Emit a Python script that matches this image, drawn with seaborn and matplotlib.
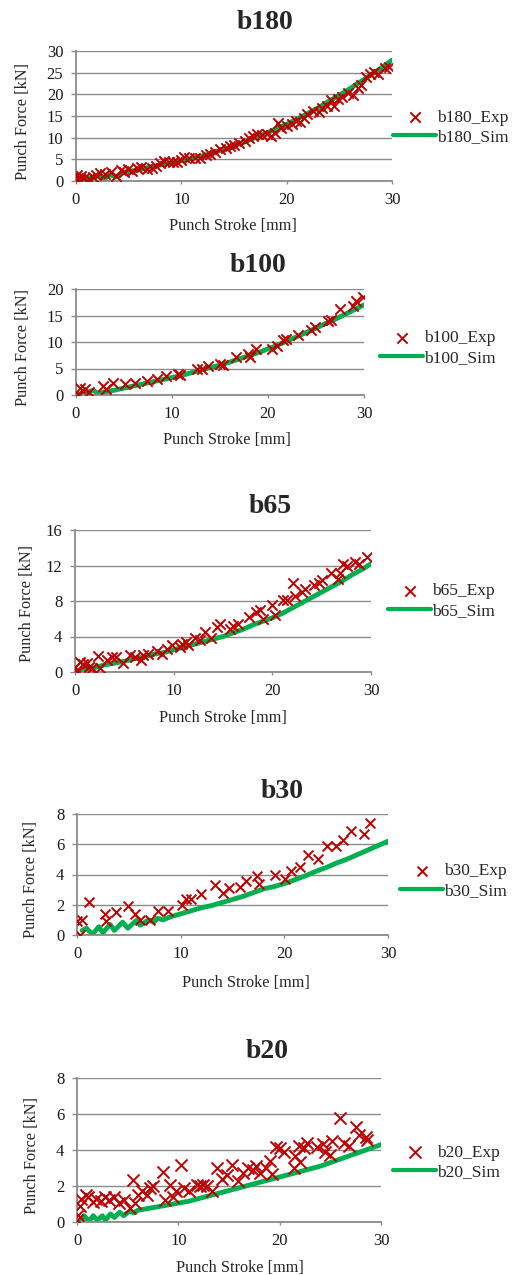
import matplotlib
matplotlib.use("Agg")
import matplotlib.pyplot as plt
import seaborn as sns
import numpy as np

# ---------------- data ----------------
titles = ["b180", "b100", "b65", "b30", "b20"]
y_max = [30, 20, 16, 8, 8]
y_step = [5, 5, 4, 2, 2]
x_ticks = [0, 10, 20, 30]

x_exp_b180 = [0.1, 0.2, 0.3, 0.5, 0.8, 1.2, 1.6, 1.9, 2.3, 2.8, 3.3, 3.8, 4.3, 4.6, 4.9, 5.3, 5.8, 6.2, 6.7, 7.2,
              7.6, 8.0, 8.4, 8.8, 9.2, 9.6, 10.0, 10.3, 10.7, 11.3, 11.8, 12.3, 12.7, 13.2, 13.7, 14.2, 14.6, 15.0,
              15.5, 16.0, 16.4, 16.8, 17.2, 17.7, 18.1, 18.5, 18.9, 19.2, 19.5, 20.0, 20.5, 20.9, 21.3, 21.6, 21.9,
              22.5, 23.1, 23.4, 23.8, 24.2, 24.5, 24.9, 25.3, 25.8, 26.3, 26.8, 27.1, 27.5, 27.9, 28.3, 28.7, 29.3, 29.7]
y_exp_b180 = [1.5, 0.8, 0.3, 1.2, 0.6, 0.5, 0.9, 1.3, 1.8, 1.6, 2.1, 1.2, 2.6, 2.0, 2.8, 2.3, 3.0, 3.2, 2.8, 3.1,
              3.4, 4.2, 4.6, 4.4, 4.4, 4.5, 4.8, 5.5, 5.4, 5.2, 5.4, 6.0, 6.3, 6.7, 7.3, 7.6, 8.1, 8.3,
              8.8, 9.2, 10.0, 10.5, 10.8, 10.6, 10.8, 10.3, 11.1, 13.5, 12.3, 12.6, 13.1, 13.9, 13.6, 14.5, 15.5,
              16.2, 16.0, 16.8, 17.4, 18.6, 17.4, 19.0, 19.5, 20.3, 19.9, 21.5, 22.2, 23.9, 24.8, 25.2, 24.6, 26.1, 26.3]
x_sim_b180 = [0, 1, 2, 2.7, 3.2, 3.8, 4.5, 5, 6, 7, 8, 9, 10, 11, 12, 13, 14, 15, 16, 17, 18, 19, 20,
              21, 22, 23, 24, 25, 26, 27, 28, 29, 30]
y_sim_b180 = [0, 0.5, 1.2, 0.5, 1.5, 0.9, 2.0, 2.2, 2.6, 3.2, 3.7, 4.1, 4.7, 5.2, 5.8, 6.5, 7.3, 8.1, 9.0, 10.0,
              11.0, 12.0, 13.1, 14.3, 15.6, 16.9, 18.4, 19.8, 21.3, 22.9, 24.5, 26.1, 27.9]

x_exp_b100 = [0.2, 0.4, 0.9, 1.4, 2.8, 3.1, 3.9, 5.1, 6.1, 7.4, 8.4, 9.4, 10.6, 10.8, 12.6, 13.1, 13.8, 15.0,
              15.3, 16.7, 17.9, 18.1, 18.8, 20.4, 20.9, 21.6, 21.9, 23.1, 24.5, 24.9, 26.3, 26.6, 27.5, 28.9,
              29.2, 29.9]
y_exp_b100 = [0.2, 1.3, 1.1, 0.6, 1.7, 1.1, 2.3, 2.1, 2.2, 2.7, 3.0, 3.5, 4.0, 3.8, 4.9, 5.0, 5.5, 5.9,
              5.6, 7.1, 7.8, 7.1, 8.6, 8.6, 9.3, 10.3, 10.5, 11.4, 12.3, 12.8, 13.9, 14.1, 16.2, 16.8,
              17.7, 18.5]
x_sim_b100 = [0, 1, 1.8, 2.3, 3, 4, 5, 6, 7, 8, 9, 10, 11, 12, 13, 14, 15, 16, 17, 18, 19, 20,
              21, 22, 23, 24, 25, 26, 27, 28, 29, 30]
y_sim_b100 = [0, 0.4, 0.9, 0.2, 0.6, 0.9, 1.3, 1.7, 2.1, 2.5, 2.9, 3.3, 3.7, 4.2, 4.7, 5.2, 5.6, 6.2, 6.8,
              7.4, 8.0, 8.7, 9.4, 10.2, 11.0, 11.8, 12.6, 13.5, 14.3, 15.2, 16.1, 17.0]

x_exp_b65 = [0.0, 0.2, 0.5, 0.8, 1.2, 1.4, 1.7, 2.3, 2.5, 3.2, 3.7, 4.2, 4.9, 5.6, 6.1, 6.7, 6.9, 7.4, 8.3, 8.8,
             9.3, 9.8, 10.6, 10.8, 11.3, 11.5, 12.2, 12.7, 13.2, 13.8, 14.4, 14.7, 15.7, 16.0, 16.5, 17.6, 18.3,
             18.8, 19.1, 20.0, 20.3, 21.1, 21.5, 22.1, 22.3, 23.0, 23.3, 24.2, 24.7, 25.0, 25.9, 26.7, 26.9,
             27.2, 27.6, 28.4, 28.8, 29.6]
y_exp_b65 = [0.6, 0.0, 1.1, 0.9, 1.0, 0.6, 0.5, 1.8, 0.5, 1.3, 1.7, 1.7, 1.0, 1.9, 1.7, 1.4, 1.9, 2.0, 2.4, 2.0,
             2.6, 3.0, 2.8, 3.2, 3.4, 3.0, 3.8, 3.6, 4.5, 3.8, 5.1, 5.4, 4.9, 5.2, 5.4, 6.2, 6.8,
             7.0, 6.0, 7.5, 6.4, 8.1, 8.1, 10.0, 8.6, 9.0, 9.4, 9.8, 10.0, 10.4, 11.1, 10.5, 11.1,
             12.2, 12.0, 12.4, 12.2, 13.0]
x_sim_b65 = [0, 1, 2, 3, 4, 5, 6, 7, 8, 9, 10, 11, 12, 13, 14, 15, 16, 17, 18, 19, 20,
             21, 22, 23, 24, 25, 26, 27, 28, 29, 30]
y_sim_b65 = [0, 0.3, 0.5, 0.8, 1.0, 1.2, 1.5, 1.7, 2.0, 2.2, 2.5, 2.8, 3.1, 3.4, 3.7, 4.0, 4.4, 4.8, 5.3, 5.7,
             6.1, 6.6, 7.2, 7.8, 8.4, 9.0, 9.6, 10.2, 10.9, 11.5, 12.2]

x_exp_b30 = [0.0, 0.25, 0.5, 1.15, 2.7, 2.75, 3.8, 4.9, 5.6, 6.1, 7.0, 7.8, 8.8, 10.1, 10.5, 11.0, 12.0, 13.3,
             14.1, 14.7, 15.7, 16.3, 17.4, 17.6, 19.1, 20.1, 20.6, 21.5, 22.3, 23.2, 24.1, 25.0, 25.7, 26.4,
             27.7, 28.3]
y_exp_b30 = [0.9, 0.0, 1.0, 2.2, 1.4, 0.9, 1.5, 1.9, 1.4, 1.0, 1.0, 1.6, 1.6, 2.0, 2.4, 2.4, 2.7, 3.3,
             2.8, 3.1, 3.2, 3.6, 3.9, 3.4, 4.0, 3.7, 4.2, 4.5, 5.3, 5.0, 5.9, 5.9, 6.3, 6.9,
             6.7, 7.4]
x_sim_b30 = [0.5, 0.9, 1.5, 2.1, 2.5, 3.2, 3.6, 4.4, 4.9, 5.7, 6.1, 6.9, 7.4, 7.8, 8.3, 9, 10, 11, 12, 13,
             14, 15, 16, 17, 18, 19, 20, 21, 22, 23, 24, 25, 26, 27, 28, 29, 30]
y_sim_b30 = [0.3, 0.45, 0.05, 0.55, 0.15, 0.7, 0.3, 0.85, 0.45, 0.95, 0.65, 1.0, 0.85, 1.1, 1.0, 1.2, 1.4, 1.6,
             1.8, 1.95, 2.15, 2.35, 2.55, 2.8, 3.05, 3.2, 3.4, 3.65, 3.9, 4.2, 4.45, 4.75, 5.0, 5.3, 5.6, 5.9, 6.2]

x_exp_b20 = [0.0, 0.1, 0.3, 0.4, 0.85, 1.1, 1.6, 1.9, 2.4, 2.8, 3.2, 3.7, 4.1, 4.6, 5.2, 5.5, 5.7, 6.0, 6.4, 6.9,
             7.2, 7.5, 8.5, 8.7, 9.2, 9.5, 9.8, 10.3, 10.6, 11.1, 11.8, 12.1, 12.4, 12.8, 13.3, 13.8, 14.3, 14.8,
             15.3, 15.9, 16.4, 16.9, 17.4, 17.7, 18.1, 18.7, 19.0, 19.2, 19.6, 20.0, 20.4, 21.4, 21.5, 21.9, 22.0,
             22.4, 22.7, 23.7, 24.3, 24.5, 25.0, 25.2, 26.0, 26.3, 26.8, 27.5, 27.8, 28.5, 28.6]
y_exp_b20 = [0.1, 0.4, 0.9, 1.3, 1.5, 1.4, 1.1, 1.3, 1.15, 1.4, 1.25, 1.4, 1.05, 1.25, 0.8, 2.35, 1.05, 1.5, 1.7, 1.5,
             1.9, 2.0, 2.8, 1.25, 2.05, 1.4, 1.7, 3.15, 1.9, 1.7, 2.05, 2.0, 2.05, 2.0, 1.75, 3.0, 2.4, 2.6,
             3.15, 2.3, 2.7, 3.0, 2.9, 3.1, 2.7, 3.0, 3.4, 2.65, 4.15, 4.1, 3.9, 3.0, 3.65, 4.25, 3.35,
             4.1, 4.4, 4.15, 4.35, 3.9, 3.75, 4.5, 5.8, 4.4, 4.2, 5.3, 4.85, 4.75, 4.55]
x_sim_b20 = [0.3, 0.7, 1.2, 1.6, 2.0, 2.5, 2.8, 3.3, 3.7, 4.2, 4.6, 5.2, 5.6, 6, 7, 8, 9, 10, 11, 12, 13, 14,
             15, 16, 17, 18, 19, 20, 21, 22, 23, 24, 25, 26, 27, 28, 29, 30]
y_sim_b20 = [0.0, 0.35, 0.05, 0.35, 0.1, 0.35, 0.1, 0.45, 0.25, 0.55, 0.35, 0.6, 0.5, 0.65, 0.75, 0.85, 0.95, 1.05,
             1.15, 1.3, 1.45, 1.6, 1.75, 1.9, 2.05, 2.2, 2.35, 2.5, 2.65, 2.8, 2.95, 3.1, 3.3, 3.5, 3.7, 3.9, 4.1, 4.3]

exp_x = [x_exp_b180, x_exp_b100, x_exp_b65, x_exp_b30, x_exp_b20]
exp_y = [y_exp_b180, y_exp_b100, y_exp_b65, y_exp_b30, y_exp_b20]
sim_x = [x_sim_b180, x_sim_b100, x_sim_b65, x_sim_b30, x_sim_b20]
sim_y = [y_sim_b180, y_sim_b100, y_sim_b65, y_sim_b30, y_sim_b20]

# ---------------- layout (pixels) ----------------
W, H = 512, 1275
axes_px = [(76, 392, 51, 181), (76, 364, 289, 395), (75, 371, 530, 672), (77, 388, 814, 935), (77, 381, 1078, 1222)]
title_px = [(265, 29), (258, 272), (270, 513), (282, 798), (267, 1058)]
xlabel_px = [(233, 230), (227, 444), (223, 722), (246, 987), (240, 1272)]
ylabel_px = [(23, 122), (23, 348), (27, 603), (31, 879), (32, 1156)]
legend_px = [(393, 127.5), (380, 348), (388, 601), (400, 881), (393, 1162.5)]
marker_s = [55, 55, 55, 50, 75]

RED = "#C00000"
GREEN = "#00B050"
GRAY = "#8A8A8A"

sns.set_theme(style="white")
plt.rcParams["font.family"] = ["Liberation Serif", "DejaVu Serif"]

fig = plt.figure(figsize=(W / 100, H / 100), dpi=100)
fig.patch.set_facecolor("white")

for i in range(5):
    l, r, t, b = axes_px[i]
    ax = fig.add_axes([l / W, 1 - b / H, (r - l) / W, (b - t) / H])
    ax.set_facecolor("white")
    sns.lineplot(x=sim_x[i], y=sim_y[i], ax=ax, color=GREEN, linewidth=3.5, sort=False,
                 estimator=None, label=titles[i] + "_Sim", zorder=2)
    sns.scatterplot(x=exp_x[i], y=exp_y[i], ax=ax, marker="x", color=RED, s=marker_s[i],
                    linewidth=1.4, label=titles[i] + "_Exp", zorder=3)
    ax.set_xlim(0, 30)
    ax.set_ylim(0, y_max[i])
    ax.set_xticks(x_ticks)
    ax.set_yticks(np.arange(0, y_max[i] + 0.01, y_step[i]))
    ax.yaxis.grid(True, color=GRAY, linewidth=1.0)
    ax.xaxis.grid(False)
    ax.set_axisbelow(True)
    for side in ["top", "right"]:
        ax.spines[side].set_visible(False)
    for side in ["left", "bottom"]:
        ax.spines[side].set_color(GRAY)
        ax.spines[side].set_linewidth(1.3)
    ax.tick_params(axis="both", which="major", direction="out", color=GRAY, width=1.0,
                   labelsize=12, labelcolor="#1a1a1a")
    ax.tick_params(axis="y", length=3.6, pad=5.5, left=True)
    ax.tick_params(axis="x", length=2.2, pad=5.5, bottom=True)
    ax.set_xlabel("")
    ax.set_ylabel("")

    handles, labels = ax.get_legend_handles_labels()
    order = [labels.index(titles[i] + "_Exp"), labels.index(titles[i] + "_Sim")]
    lx, ly = legend_px[i]
    leg = ax.legend([handles[k] for k in order], [labels[k] for k in order],
                    loc="center left", bbox_to_anchor=(lx / W, 1 - ly / H),
                    bbox_transform=fig.transFigure, frameon=False, fontsize=12.5,
                    handlelength=2.5, handletextpad=0.05, borderpad=0, borderaxespad=0,
                    labelspacing=0.2, markerscale=1.0)
    for lh in leg.get_lines():
        lh.set_linewidth(3.0)

    tx, ty = title_px[i]
    fig.text(tx / W, 1 - ty / H, titles[i], ha="center", va="baseline", fontsize=20, fontweight="bold")
    xx, xy = xlabel_px[i]
    fig.text(xx / W, 1 - xy / H, "Punch Stroke [mm]", ha="center", va="baseline", fontsize=11.7)
    yx, yy = ylabel_px[i]
    fig.text(yx / W, 1 - yy / H, "Punch Force [kN]", ha="center", va="center", rotation=90, fontsize=11.7)

fig.savefig("out.png", dpi=100, facecolor="white")
